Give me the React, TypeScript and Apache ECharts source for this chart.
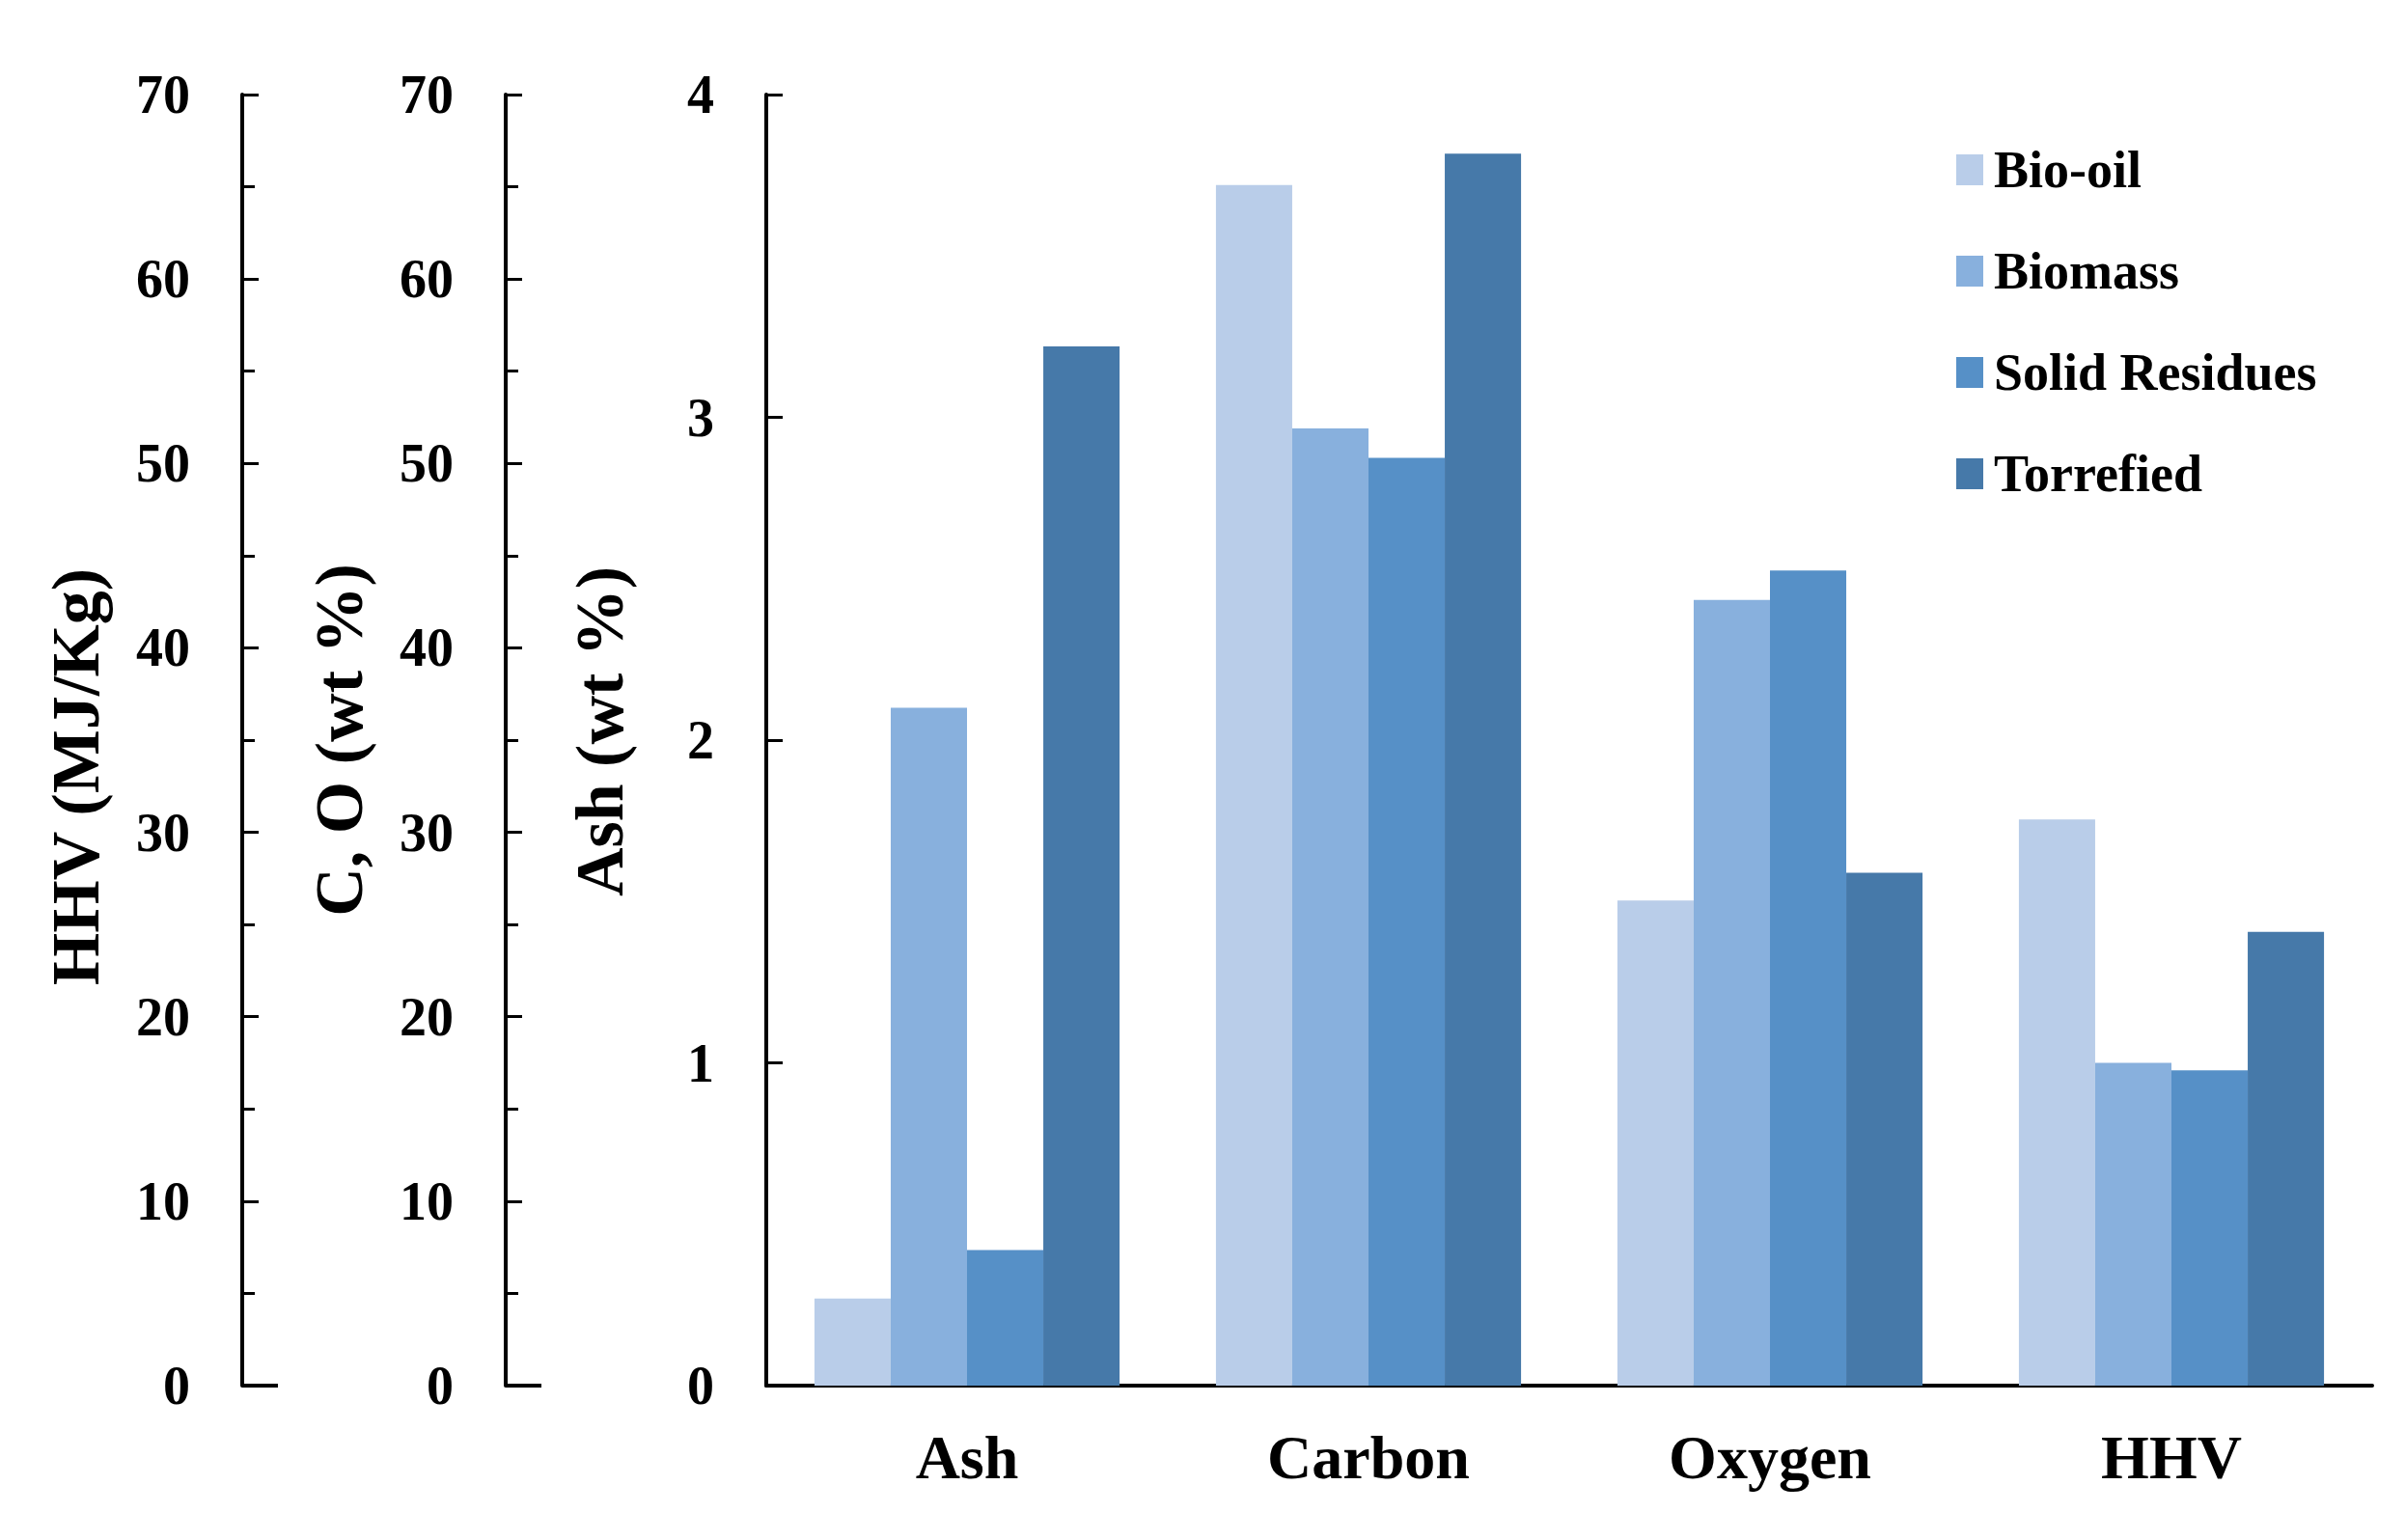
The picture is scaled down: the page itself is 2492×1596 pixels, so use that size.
import React, { useEffect, useRef } from "react";
import * as echarts from "echarts";

const categories = ["Ash", "Carbon", "Oxygen", "HHV"];
const seriesNames = ["Bio-oil", "Biomass", "Solid Residues", "Torrefied"];
const seriesColors = ["#B9CDE9", "#88B0DD", "#5690C7", "#4679A9"];
// Ash content (wt %), read on the "Ash (wt %)" axis 0–4
const ashValues = [0.27, 2.1, 0.42, 3.22];
// Carbon and Oxygen (wt %), read on the "C, O (wt %)" axis 0–70
const carbonValues = [65.1, 51.9, 50.3, 66.8];
const oxygenValues = [26.3, 42.6, 44.2, 27.8];
// HHV (MJ/Kg), read on the "HHV (MJ/Kg)" axis 0–70
const hhvValues = [30.7, 17.5, 17.1, 24.6];

const axisNames = ["HHV (MJ/Kg)", "C, O (wt %)", "Ash (wt %)"];
const axisMax = [70, 70, 4];
const axisInterval = [10, 10, 1];

const FONT = "'Liberation Serif', 'Times New Roman', serif";
const W = 2492;
const H = 1596;
const GRID_LEFT = 794;
const GRID_RIGHT = 34;
const GRID_TOP = 98;
const GRID_BOTTOM = 160;
const OFFSETS = [543, 270, 0];

export default function App() {
  const ref = useRef<HTMLDivElement>(null);
  useEffect(() => {
    if (!ref.current) return;
    const chart = echarts.init(ref.current, undefined, { renderer: "svg" });

    const series: any[] = [];
    seriesNames.forEach((name, i) => {
      const common = {
        type: "bar",
        name,
        barGap: "0%",
        barCategoryGap: "24%",
        itemStyle: { color: seriesColors[i] },
      };
      series.push({
        ...common,
        xAxisIndex: 0,
        yAxisIndex: 2,
        data: [ashValues[i], "-", "-", "-"],
      });
      series.push({
        ...common,
        xAxisIndex: 1,
        yAxisIndex: 1,
        data: ["-", carbonValues[i], oxygenValues[i], "-"],
      });
      series.push({
        ...common,
        xAxisIndex: 2,
        yAxisIndex: 0,
        data: ["-", "-", "-", hhvValues[i]],
      });
    });

    const yAxes = axisNames.map((nm, k) => ({
      type: "value",
      position: "left",
      offset: OFFSETS[k],
      min: 0,
      max: axisMax[k],
      interval: axisInterval[k],
      name: nm,
      nameLocation: "middle",
      nameRotate: 90,
      nameGap: 138,
      nameTextStyle: {
        fontFamily: FONT,
        fontWeight: "bold",
        fontSize: 70,
        color: "#000",
        padding: k === 0 ? [0, 76, 0, 0] : k === 2 ? [0, 0, 0, 18] : 0,
      },
      axisLine: { show: true, lineStyle: { color: "#000", width: 4 } },
      axisTick: {
        show: true,
        inside: true,
        length: 17,
        lineStyle: { color: "#000", width: 3 },
      },
      minorTick: {
        show: k < 2,
        splitNumber: 2,
        length: 13,
        lineStyle: { color: "#000", width: 3 },
      },
      splitLine: { show: false },
      axisLabel: {
        margin: 54,
        fontFamily: FONT,
        fontWeight: "bold",
        fontSize: 56,
        color: "#000",
      },
    }));

    const xAxes = [0, 1, 2].map((k) => ({
      type: "category",
      data: categories,
      show: k === 0,
      axisLine: { show: true, lineStyle: { color: "#000", width: 4 } },
      axisTick: { show: false },
      axisLabel: {
        margin: 42,
        fontFamily: FONT,
        fontWeight: "bold",
        fontSize: 64,
        color: "#000",
      },
    }));

    const baseY = H - GRID_BOTTOM;
    chart.setOption({
      animation: false,
      backgroundColor: "#fff",
      grid: {
        left: GRID_LEFT,
        right: GRID_RIGHT,
        top: GRID_TOP,
        bottom: GRID_BOTTOM,
        containLabel: false,
      },
      legend: {
        orient: "vertical",
        left: 2022,
        top: 144,
        itemWidth: 28,
        itemHeight: 32,
        itemGap: 51,
        icon: "rect",
        data: seriesNames,
        textStyle: {
          fontFamily: FONT,
          fontWeight: "bold",
          fontSize: 54,
          color: "#000",
          padding: [0, 0, 0, 6],
        },
      },
      xAxis: xAxes,
      yAxis: yAxes,
      series,
      graphic: [0, 1].map((k) => ({
        type: "line",
        shape: {
          x1: GRID_LEFT - OFFSETS[k],
          y1: baseY,
          x2: GRID_LEFT - OFFSETS[k] + 37,
          y2: baseY,
        },
        style: { stroke: "#000", lineWidth: 4 },
      })),
    });
    return () => chart.dispose();
  }, []);
  return (
    <div
      ref={ref}
      style={{ position: "absolute", left: 0, top: 0, width: W, height: H }}
    />
  );
}
